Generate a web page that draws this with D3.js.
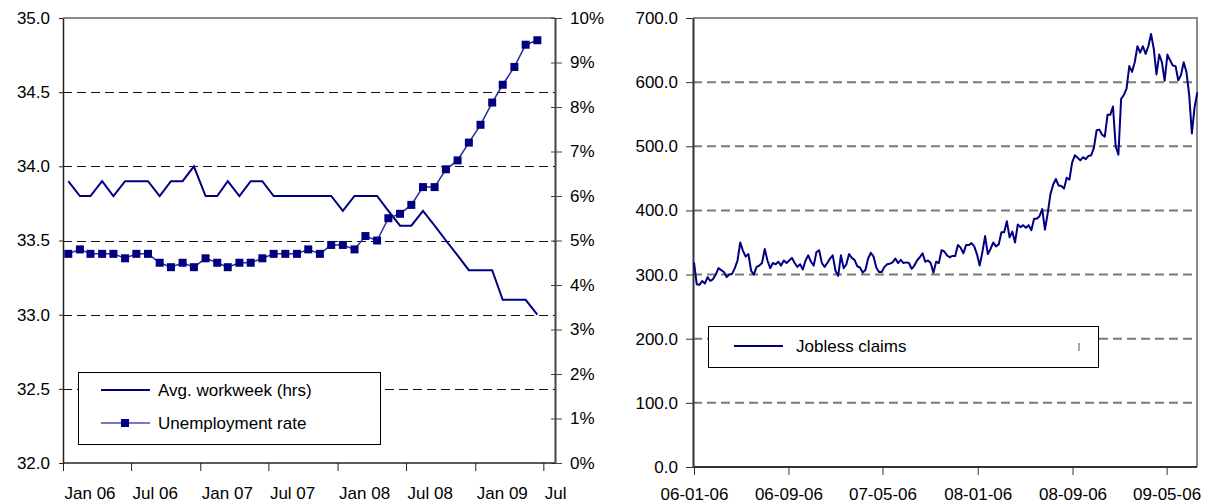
<!DOCTYPE html>
<html>
<head>
<meta charset="utf-8">
<script src="https://cdn.jsdelivr.net/npm/d3@7"></script>
<style>
  html, body { margin: 0; padding: 0; background: #fff; }
  svg { display: block; }
  text { font-family: "Liberation Sans", Arial, sans-serif; font-size: 17px; fill: #000; }
</style>
</head>
<body>
<svg id="chart" width="1209" height="504"></svg>
<script>
// ---- Left panel: monthly series, Jan 2006 – Jun 2009 ----
const firstMonth = "2006-01-15";
const workweek = [33.9,33.8,33.8,33.9,33.8,33.9,33.9,33.9,33.8,33.9,33.9,34.0,
                  33.8,33.8,33.9,33.8,33.9,33.9,33.8,33.8,33.8,33.8,33.8,33.8,
                  33.7,33.8,33.8,33.8,33.7,33.6,33.6,33.7,33.6,33.5,33.4,33.3,
                  33.3,33.3,33.1,33.1,33.1,33.0];
const unemployment = [4.7,4.8,4.7,4.7,4.7,4.6,4.7,4.7,4.5,4.4,4.5,4.4,
                      4.6,4.5,4.4,4.5,4.5,4.6,4.7,4.7,4.7,4.8,4.7,4.9,
                      4.9,4.8,5.1,5.0,5.5,5.6,5.8,6.2,6.2,6.6,6.8,7.2,
                      7.6,8.1,8.5,8.9,9.4,9.5];
const leftTickDates = ["2006-01-01","2006-07-01","2007-01-01","2007-07-01",
                       "2008-01-01","2008-07-01","2009-01-01","2009-07-01"];
const leftTickLabels = ["Jan 06","Jul 06","Jan 07","Jul 07","Jan 08","Jul 08","Jan 09","Jul"];
const hoursTicks = [32.0,32.5,33.0,33.5,34.0,34.5,35.0];
const rateTicks = [0,1,2,3,4,5,6,7,8,9,10];
const leftLegend = ["Avg. workweek (hrs)", "Unemployment rate"];

// ---- Right panel: weekly initial jobless claims (thousands) ----
const firstWeek = "2006-01-06";
const claims = [319,285,284,290,286,296,290,293,300,310,307,304,296,300,301,310,322,350,337,328,
                332,306,300,312,314,318,340,322,310,318,316,320,314,322,318,322,326,318,312,316,
                308,322,330,320,314,335,338,318,312,318,325,330,306,298,330,310,316,332,326,323,
                313,311,303,307,325,334,328,311,304,304,312,316,317,319,325,318,323,318,319,318,
                309,314,322,327,333,320,322,318,303,320,318,338,336,330,327,329,329,346,342,333,
                346,346,349,344,332,314,335,360,332,340,350,344,347,366,366,383,358,367,350,378,
                374,377,373,377,369,387,387,391,402,370,395,425,440,449,439,438,434,451,448,475,
                486,482,478,483,480,485,486,498,525,526,518,515,549,549,562,500,487,574,580,590,
                625,616,631,656,646,656,644,656,675,652,612,643,631,602,643,634,626,625,603,611,
                631,616,581,520,561,584];
const rightTickDates = ["2006-01-06","2006-09-06","2007-05-06","2008-01-06","2008-09-06","2009-05-06"];
const claimsTicks = [0,100,200,300,400,500,600,700];
const rightLegend = ["Jobless claims"];

const parse = d3.utcParse("%Y-%m-%d");
const navy = "#000080";
const svg = d3.select("#chart");

// ================= Left panel =================
const L = { x0: 63, x1: 555, top: 18, bottom: 463 };
const m0 = parse(firstMonth);
const months = workweek.map((_, i) => d3.utcMonth.offset(m0, i));

const xL = d3.scaleUtc()
  .domain([parse("2006-01-01"), parse("2009-08-01")])
  .range([L.x0, L.x1]);
const yHours = d3.scaleLinear().domain([32, 35]).range([L.bottom, L.top]);
const yRate = d3.scaleLinear().domain([0, 10]).range([L.bottom, L.top]);

const gL = svg.append("g");

// dashed gridlines
gL.append("g").selectAll("line")
  .data(hoursTicks.filter(v => v > 32 && v < 35))
  .join("line")
  .attr("x1", L.x0).attr("x2", L.x1)
  .attr("y1", d => Math.round(yHours(d)) + 0.5).attr("y2", d => Math.round(yHours(d)) + 0.5)
  .attr("stroke", "#111").attr("stroke-width", 1)
  .attr("stroke-dasharray", "9,5");

// top border
gL.append("line")
  .attr("x1", L.x0).attr("x2", L.x1).attr("y1", L.top).attr("y2", L.top)
  .attr("stroke", "#8a8a8a").attr("stroke-width", 2);

// left axis
const axL = gL.append("g").attr("transform", `translate(${L.x0},0)`)
  .call(d3.axisLeft(yHours).tickValues(hoursTicks).tickFormat(d3.format(".1f"))
        .tickSizeInner(4).tickSizeOuter(0).tickPadding(9));
axL.select(".domain").attr("stroke", "#222").attr("stroke-width", 1.5);
axL.selectAll(".tick line").attr("stroke", "#222");
axL.selectAll("text").style("font-size", "17px").attr("fill", "#000");

// right axis (crossing ticks)
const axR = gL.append("g").attr("transform", `translate(${L.x1},0)`)
  .call(d3.axisRight(yRate).tickValues(rateTicks).tickFormat(d => d + "%")
        .tickSizeInner(7).tickSizeOuter(0).tickPadding(8));
axR.select(".domain").attr("stroke", "#444").attr("stroke-width", 2);
axR.selectAll(".tick line").attr("x1", -4).attr("stroke", "#444");
axR.selectAll("text").style("font-size", "17px").attr("fill", "#000");

// bottom axis
const axB = gL.append("g").attr("transform", `translate(0,${L.bottom})`)
  .call(d3.axisBottom(xL).tickValues(leftTickDates.map(parse))
        .tickFormat((d, i) => leftTickLabels[i])
        .tickSizeInner(8).tickSizeOuter(0));
axB.select(".domain").attr("stroke", "#222").attr("stroke-width", 1.5)
  .attr("d", `M${L.x0},0H${L.x1}`);
axB.selectAll(".tick line").attr("stroke", "#222");
axB.selectAll("text").style("font-size", "17px").attr("fill", "#000")
  .attr("text-anchor", "start").attr("x", 1).attr("y", 36).attr("dy", 0);

// series: average workweek
gL.append("path")
  .datum(workweek)
  .attr("fill", "none").attr("stroke", navy).attr("stroke-width", 2)
  .attr("stroke-linejoin", "miter")
  .attr("d", d3.line().x((d, i) => xL(months[i])).y(d => yHours(d)));

// series: unemployment rate
gL.append("path")
  .datum(unemployment)
  .attr("fill", "none").attr("stroke", "#2a2a9c").attr("stroke-width", 1.5)
  .attr("d", d3.line().x((d, i) => xL(months[i])).y(d => yRate(d)));
gL.append("g").selectAll("rect")
  .data(unemployment)
  .join("rect")
  .attr("x", (d, i) => xL(months[i]) - 4).attr("y", d => yRate(d) - 4)
  .attr("width", 8).attr("height", 8)
  .attr("fill", navy);

// legend
const lg = gL.append("g");
lg.append("rect").attr("x", 78.5).attr("y", 372.5).attr("width", 302).attr("height", 72)
  .attr("fill", "#fff").attr("stroke", "#000").attr("stroke-width", 1);
lg.append("line").attr("x1", 101).attr("x2", 150).attr("y1", 390).attr("y2", 390)
  .attr("stroke", navy).attr("stroke-width", 2);
lg.append("text").attr("x", 158).attr("y", 396).text(leftLegend[0]);
lg.append("line").attr("x1", 101).attr("x2", 150).attr("y1", 423).attr("y2", 423)
  .attr("stroke", "#4a4ab0").attr("stroke-width", 1.5);
lg.append("rect").attr("x", 121).attr("y", 419).attr("width", 8).attr("height", 8).attr("fill", navy);
lg.append("text").attr("x", 158).attr("y", 429).text(leftLegend[1]);

// ================= Right panel =================
const R = { x0: 693, x1: 1197, top: 18, bottom: 467 };
const w0 = parse(firstWeek);
const weeks = claims.map((_, i) => d3.utcDay.offset(w0, 7 * i));

const rTicks = rightTickDates.map(parse);
const xR = d3.scaleUtc().domain([rTicks[0], rTicks[rTicks.length - 1]]).range([694, 1166.6]);
const yC = d3.scaleLinear().domain([0, 700]).range([R.bottom, R.top]);

const gR = svg.append("g");

gR.append("g").selectAll("line")
  .data(claimsTicks.filter(v => v > 0 && v < 700))
  .join("line")
  .attr("x1", R.x0).attr("x2", R.x1)
  .attr("y1", d => yC(d)).attr("y2", d => yC(d))
  .attr("stroke", "#7a7a7a").attr("stroke-width", 2)
  .attr("stroke-dasharray", "9,5");

// frame: top and right borders
gR.append("path")
  .attr("d", `M${R.x0},${R.top}H${R.x1}V${R.bottom}`)
  .attr("fill", "none").attr("stroke", "#8a8a8a").attr("stroke-width", 2);

const axC = gR.append("g").attr("transform", `translate(${R.x0},0)`)
  .call(d3.axisLeft(yC).tickValues(claimsTicks).tickFormat(d3.format(".1f"))
        .tickSizeInner(7).tickSizeOuter(0).tickPadding(8));
axC.select(".domain").attr("stroke", "#333").attr("stroke-width", 2);
axC.selectAll(".tick line").attr("stroke", "#333");
axC.selectAll("text").style("font-size", "17px").attr("fill", "#000");

const axD = gR.append("g").attr("transform", `translate(0,${R.bottom})`)
  .call(d3.axisBottom(xR).tickValues(rTicks).tickFormat(d3.utcFormat("%y-%m-%d"))
        .tickSizeInner(8).tickSizeOuter(0));
axD.select(".domain").attr("stroke", "#333").attr("stroke-width", 2)
  .attr("d", `M${R.x0},0H${R.x1}`);
axD.selectAll(".tick line").attr("stroke", "#333");
axD.selectAll("text").style("font-size", "17px").attr("fill", "#000")
  .attr("y", 33).attr("dy", 0);

gR.append("path")
  .datum(claims)
  .attr("fill", "none").attr("stroke", navy).attr("stroke-width", 2)
  .attr("stroke-linejoin", "round")
  .attr("d", d3.line().x((d, i) => xR(weeks[i])).y(d => yC(d)));

const lr = gR.append("g");
lr.append("rect").attr("x", 708.5).attr("y", 326.5).attr("width", 390).attr("height", 41)
  .attr("fill", "#fff").attr("stroke", "#000").attr("stroke-width", 1);
lr.append("line").attr("x1", 734).attr("x2", 783).attr("y1", 346).attr("y2", 346)
  .attr("stroke", navy).attr("stroke-width", 2);
lr.append("text").attr("x", 796).attr("y", 352).text(rightLegend[0]);
lr.append("line").attr("x1", 1079).attr("x2", 1079).attr("y1", 343).attr("y2", 351)
  .attr("stroke", "#555").attr("stroke-width", 1);
</script>
</body>
</html>
